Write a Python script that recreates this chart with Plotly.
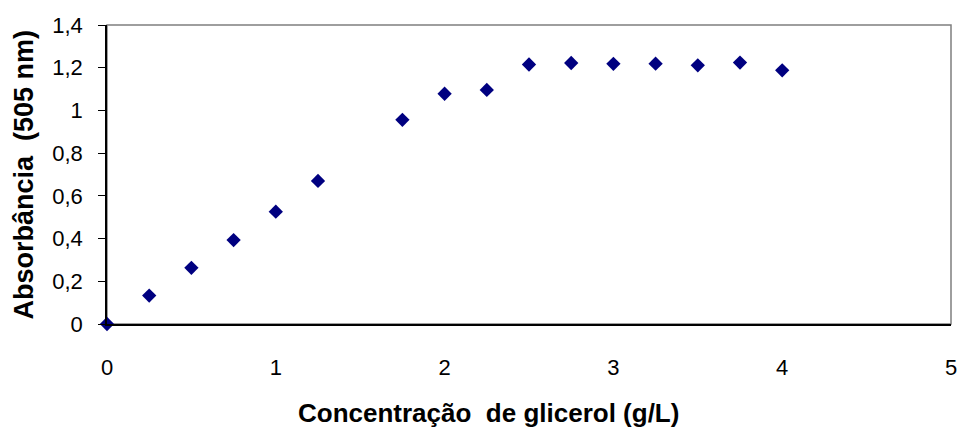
import plotly.graph_objects as go

# Glycerol calibration curve: absorbance at 505 nm versus concentration
concentracao = [0, 0.25, 0.5, 0.75, 1.0, 1.25, 1.75, 2.0, 2.25, 2.5, 2.75, 3.0, 3.25, 3.5, 3.75, 4.0]
absorbancia = [0.0, 0.133, 0.263, 0.393, 0.526, 0.670, 0.956, 1.078, 1.096, 1.215,
               1.222, 1.218, 1.219, 1.211, 1.224, 1.188]

x_ticks = [0, 1, 2, 3, 4, 5]
y_ticks = [0, 0.2, 0.4, 0.6, 0.8, 1.0, 1.2, 1.4]

x_title = "Concentração  de glicerol (g/L)"
y_title = "Absorbância  (505 nm)"

FONT = "Liberation Sans, Arial, sans-serif"
W, H = 964, 428
M = dict(l=107, r=7, t=25, b=104)
plot_w = W - M["l"] - M["r"]
plot_h = H - M["t"] - M["b"]

fig = go.Figure(
    go.Scatter(
        x=concentracao,
        y=absorbancia,
        mode="markers",
        marker=dict(symbol="diamond", size=11, color="#000080", line=dict(width=0)),
        cliponaxis=False,
    )
)

fig.update_layout(
    width=W,
    height=H,
    margin=M,
    paper_bgcolor="white",
    plot_bgcolor="white",
    separators=", ",
    showlegend=False,
    font=dict(family=FONT, size=22, color="#000000"),
    shapes=[
        dict(type="rect", xref="paper", yref="paper", x0=0, y0=0, x1=1, y1=1,
             line=dict(color="#7f7f7f", width=1.5), layer="below"),
    ],
    annotations=[
        # axis titles placed in pixel offsets relative to the plot frame
        dict(text=f"<b>{x_title}</b>", xref="paper", yref="paper",
             x=(491 - M["l"]) / plot_w, y=-(413 - M["t"] - plot_h) / plot_h,
             xanchor="center", yanchor="middle", showarrow=False,
             font=dict(family=FONT, size=26)),
        dict(text=f"<b>{y_title}</b>", xref="paper", yref="paper",
             x=-(M["l"] - 23) / plot_w, y=1 - (175 - M["t"]) / plot_h,
             xanchor="center", yanchor="middle", textangle=-90, showarrow=False,
             font=dict(family=FONT, size=27)),
    ],
)

fig.update_xaxes(
    range=[0, 5],
    tickvals=x_ticks,
    showgrid=False,
    zeroline=False,
    showline=True,
    linecolor="#000000",
    linewidth=1.5,
    ticks="",
    ticklabelstandoff=23,
    tickfont=dict(size=22),
)

fig.update_yaxes(
    range=[0, 1.4],
    tickvals=y_ticks,
    showgrid=False,
    zeroline=False,
    showline=True,
    linecolor="#000000",
    linewidth=1.5,
    ticks="outside",
    ticklen=7,
    tickcolor="#000000",
    tickwidth=1,
    ticklabelstandoff=11,
    tickfont=dict(size=22),
)

fig.write_html("out.html")
